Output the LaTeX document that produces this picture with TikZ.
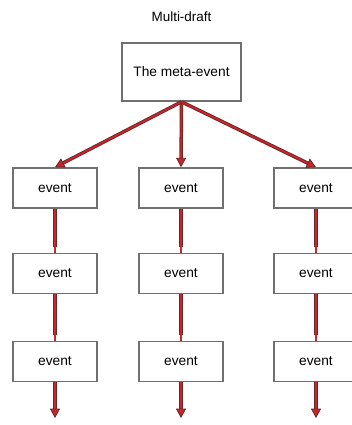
\documentclass[tikz,border=0pt]{standalone}
\usepackage{fontspec}
\setmainfont{Liberation Sans}
\usetikzlibrary{arrows.meta}
\definecolor{arrowred}{RGB}{200,38,44}
\definecolor{arrowdark}{RGB}{105,38,38}
\definecolor{boxgray}{RGB}{112,112,112}
\begin{document}
\begin{tikzpicture}[x=0.75pt,y=-0.75pt,
  box/.style={draw=boxgray, line width=1.2pt, fill=white, inner sep=0pt,
    font=\fontsize{10.3pt}{12pt}\selectfont},
  eventbox/.style={box, minimum width=63pt, minimum height=30pt},
  link/.style={draw=arrowred, line width=1.3pt,
    preaction={draw=arrowdark, line width=2.6pt, -, shorten >=4pt}},
  arrowlink/.style={link, -{Triangle[width=7.5pt,length=7pt,color=arrowdark,fill=arrowred,line width=0.6pt]}},
]
\useasboundingbox (0,0) rectangle (351,425);

\node[font=\fontsize{10.1pt}{12pt}\selectfont] (title) at (181.5,17) {Multi-draft};
\node[box, minimum width=89.5pt, minimum height=43.5pt] (meta) at (181.5,72) {The meta-event};

% three columns of events
\foreach \c/\x in {1/55,2/181,3/316}{
  \node[eventbox] (e\c1) at (\x,188) {event};
  \node[eventbox] (e\c2) at (\x,273.5) {event};
  \node[eventbox] (e\c3) at (\x,361.5) {event};
  \coordinate (end\c) at (\x,418);
}

% branches from the meta-event
\foreach \c in {1,2,3}{
  \draw[arrowlink] (meta.south) -- (e\c1.north);
  \draw[link] (e\c1.south) -- (e\c2.north);
  \draw[link] (e\c2.south) -- (e\c3.north);
  \draw[arrowlink] (e\c3.south) -- (end\c);
}
\end{tikzpicture}
\end{document}
